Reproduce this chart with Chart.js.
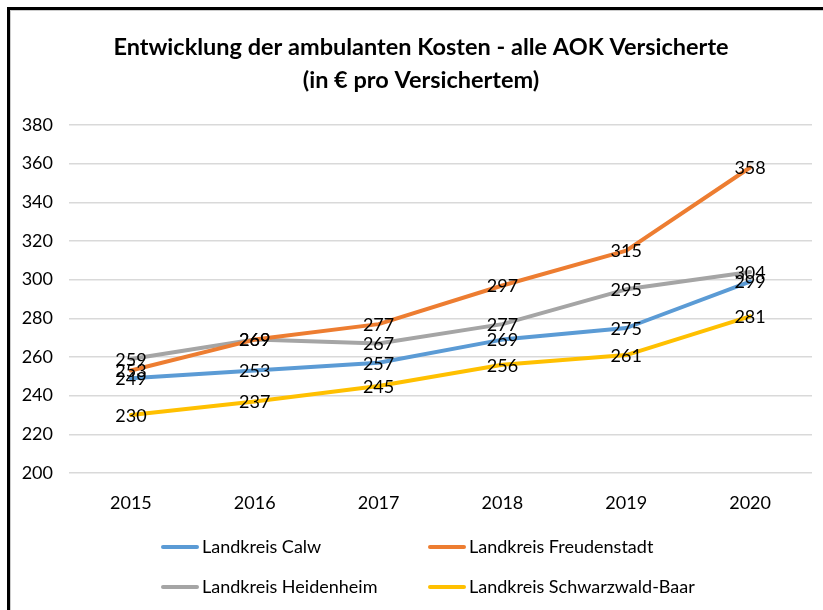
<!DOCTYPE html>
<html>
<head>
<meta charset="utf-8">
<script src="https://cdn.jsdelivr.net/npm/chart.js@4/dist/chart.umd.min.js"></script>
<style>
  html, body { margin: 0; padding: 0; background: #fff; }
  #wrap { position: relative; width: 823px; height: 610px; overflow: hidden; background: #fff; }
  #frame { position: absolute; left: 7px; top: 7px; width: 840px; height: 640px; border: 3px solid #000; box-sizing: border-box; box-shadow: inset 1px 1px 0 #ccc; }
  canvas { position: absolute; left: 0; top: 0; }
</style>
</head>
<body>
<div id="wrap">
  <div id="frame"></div>
  <canvas id="c" width="823" height="610"></canvas>
</div>
<script>
const titleLines = ["Entwicklung der ambulanten Kosten - alle AOK Versicherte", "(in € pro Versichertem)"];
const years = ["2015", "2016", "2017", "2018", "2019", "2020"];
const seriesNames = ["Landkreis Calw", "Landkreis Freudenstadt", "Landkreis Heidenheim", "Landkreis Schwarzwald-Baar"];
const calw = [249, 253, 257, 269, 275, 299];
const freudenstadt = [253, 269, 277, 297, 315, 358];
const heidenheim = [259, 269, 267, 277, 295, 304];
const schwarzwaldBaar = [230, 237, 245, 256, 261, 281];
const seriesColors = ["#5B9BD5", "#ED7D31", "#A5A5A5", "#FFC000"];
const yMin = 200, yMax = 380, yStep = 20;

const FONT = "Lato, 'Open Sans', sans-serif";

const titlePlugin = {
  id: 'customTitle',
  afterDraw(chart) {
    const ctx = chart.ctx;
    ctx.save();
    ctx.fillStyle = '#000';
    ctx.font = "bold 23.5px " + FONT;
    ctx.textAlign = 'center';
    ctx.textBaseline = 'middle';
    ctx.fillText(titleLines[0], 421, 47);
    ctx.fillText(titleLines[1], 421, 80);
    ctx.restore();
  }
};

const labelPlugin = {
  id: 'pointLabels',
  afterDatasetsDraw(chart) {
    const ctx = chart.ctx;
    ctx.save();
    ctx.fillStyle = '#000';
    ctx.font = "18px " + FONT;
    ctx.textAlign = 'center';
    ctx.textBaseline = 'middle';
    chart.data.datasets.forEach((ds, i) => {
      const meta = chart.getDatasetMeta(i);
      meta.data.forEach((pt, j) => {
        ctx.fillText(String(ds.data[j]), pt.x, pt.y + 1);
      });
    });
    ctx.restore();
  }
};

const legendPlugin = {
  id: 'gridLegend',
  afterDraw(chart) {
    const ctx = chart.ctx;
    const cols = [161, 428];
    const rows = [547, 587];
    ctx.save();
    ctx.font = "18px " + FONT;
    ctx.textBaseline = 'middle';
    ctx.textAlign = 'left';
    chart.data.datasets.forEach((ds, i) => {
      const x = cols[i % 2], y = rows[Math.floor(i / 2)];
      ctx.strokeStyle = ds.borderColor;
      ctx.lineWidth = 4;
      ctx.lineCap = 'round';
      ctx.beginPath();
      ctx.moveTo(x + 2, y);
      ctx.lineTo(x + 36, y);
      ctx.stroke();
      ctx.fillStyle = '#000';
      ctx.fillText(ds.label, x + 41, y);
    });
    ctx.restore();
  }
};

const allData = [calw, freudenstadt, heidenheim, schwarzwaldBaar];

new Chart(document.getElementById('c'), {
  type: 'line',
  data: {
    labels: years,
    datasets: seriesNames.map((name, i) => ({
      label: name,
      data: allData[i],
      borderColor: seriesColors[i],
      backgroundColor: seriesColors[i],
      borderWidth: 4,
      borderCapStyle: 'round',
      borderJoinStyle: 'round',
      pointRadius: 0,
      tension: 0,
      fill: false
    }))
  },
  options: {
    responsive: false,
    animation: false,
    layout: { padding: { top: 125, left: 0, right: 11, bottom: 0 } },
    plugins: {
      legend: { display: false },
      title: { display: false },
      tooltip: { enabled: false }
    },
    scales: {
      x: {
        offset: true,
        grid: { display: false, drawTicks: false },
        border: { display: false },
        ticks: { color: '#000', font: { family: FONT, size: 18 }, padding: 19 },
        afterFit: s => { s.height = 137; }
      },
      y: {
        min: yMin, max: yMax,
        ticks: { stepSize: yStep, color: '#000', font: { family: FONT, size: 18 }, padding: 16 },
        grid: { color: '#D9D9D9', lineWidth: 1.5, drawTicks: false },
        border: { display: false },
        afterFit: s => { s.width = 69; }
      }
    }
  },
  plugins: [labelPlugin, titlePlugin, legendPlugin]
});
</script>
</body>
</html>
